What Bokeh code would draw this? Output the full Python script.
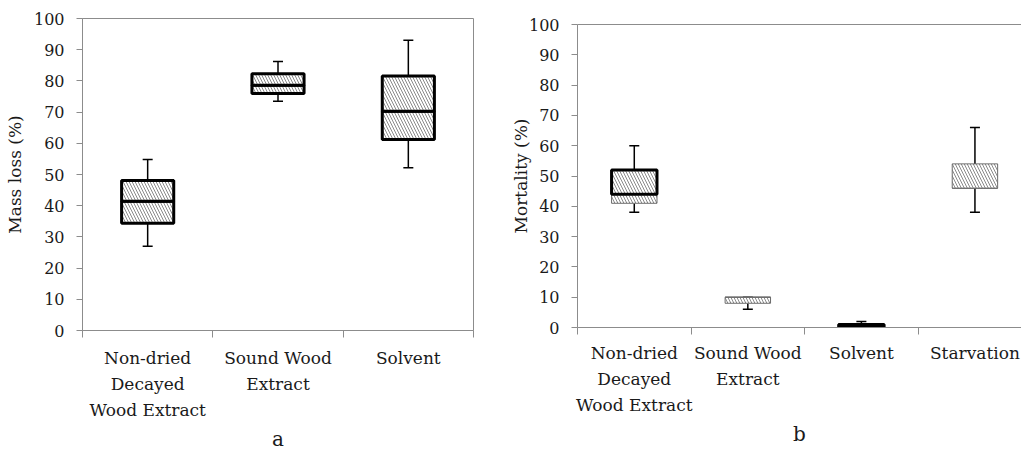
from bokeh.plotting import figure
from bokeh.models import FixedTicker, Range1d, LinearAxis
from bokeh.layouts import row, column
from bokeh.embed import file_html
from bokeh.resources import INLINE

# ---------------- data ----------------
a_categories = ["Non-dried\nDecayed\nWood Extract", "Sound Wood\nExtract", "Solvent"]
a_low = [27.0, 73.5, 52.2]
a_q1 = [34.4, 76.0, 61.2]
a_median = [41.4, 78.6, 70.3]
a_q3 = [48.1, 82.3, 81.6]
a_high = [54.8, 86.2, 93.0]

b_categories = ["Non-dried\nDecayed\nWood Extract", "Sound Wood\nExtract", "Solvent", "Starvation"]
b_low = [38, 6, 0, 38]
b_q1 = [41, 8, 0, 46]
b_median = [44, 10, 1, 46]
b_q3 = [52, 10, 1, 54]
b_high = [60, 10, 2, 66]

y_ticks = [0, 10, 20, 30, 40, 50, 60, 70, 80, 90, 100]

# ---------------- styles ----------------
FONT = "DejaVu Serif"
TXT = "#1a1a1a"
AXC = "#8c8c8c"
THICK = dict(line_color="black", line_width=3)
THIN = dict(line_color="#6a6a6a", line_width=1)

a_lower_style = [THICK, THICK, THICK]
a_upper_style = [THICK, THICK, THICK]
b_lower_style = [THIN, THIN, THICK, THIN]
b_upper_style = [THICK, THIN, THICK, THIN]


def make_panel(cats, low, q1, med, q3, high, lower_style, upper_style,
               ylabel, plabel, width, height, mb_left, mb_right, mb_top,
               mb_bottom, x_end, title_standoff, tick_standoff, plabel_standoff,
               outline):
    n = len(cats)
    xs = [i + 0.5 for i in range(n)]
    p = figure(width=width, height=height, output_backend="svg",
               toolbar_location=None, x_range=Range1d(0, x_end),
               y_range=Range1d(0, 100), min_border_left=mb_left,
               min_border_right=mb_right, min_border_top=mb_top,
               min_border_bottom=mb_bottom)
    p.xgrid.visible = False
    p.ygrid.visible = False
    p.background_fill_color = "white"
    p.border_fill_color = "white"
    if outline:
        p.outline_line_color = AXC
        p.outline_line_width = 1
    else:
        p.outline_line_color = None
        top = LinearAxis(ticker=FixedTicker(ticks=[]), axis_line_color=AXC,
                         major_tick_line_color=None, minor_tick_line_color=None,
                         major_label_text_font_size="0px")
        p.add_layout(top, "above")

    # whiskers
    p.segment(x0=xs, y0=q3, x1=xs, y1=high, line_color="black", line_width=1.5)
    p.segment(x0=xs, y0=low, x1=xs, y1=q1, line_color="black", line_width=1.5)
    p.scatter(x=xs, y=high, marker="dash", size=10, line_color="black", line_width=1.5)
    p.scatter(x=xs, y=low, marker="dash", size=10, line_color="black", line_width=1.5)

    # boxes
    for i in range(n):
        for b0, b1, st in ((q1[i], med[i], lower_style[i]), (med[i], q3[i], upper_style[i])):
            p.vbar(x=[xs[i]], bottom=[b0], top=[b1], width=0.4,
                   fill_color="white", hatch_pattern="\\", hatch_scale=6,
                   hatch_color="#8a8a8a", hatch_weight=1, **st)

    # x axis
    xa = p.below[0]
    xa.ticker = FixedTicker(ticks=xs, minor_ticks=list(range(n + 1)))
    xa.major_label_overrides = {x: c for x, c in zip(xs, cats)}
    xa.major_tick_out = 0
    xa.major_tick_in = 0
    xa.minor_tick_out = 7
    xa.minor_tick_in = 0
    xa.minor_tick_line_color = AXC
    xa.axis_line_color = AXC
    xa.major_label_text_font = FONT
    xa.major_label_text_font_size = "17px"
    xa.major_label_text_color = TXT
    xa.major_label_text_line_height = 1.3
    xa.major_label_standoff = tick_standoff
    xa.axis_label = plabel
    xa.axis_label_text_font = FONT
    xa.axis_label_text_font_size = "20px"
    xa.axis_label_text_font_style = "normal"
    xa.axis_label_text_color = TXT
    xa.axis_label_standoff = plabel_standoff

    # y axis
    ya = p.left[0]
    ya.ticker = FixedTicker(ticks=y_ticks, minor_ticks=[])
    ya.major_tick_out = 6
    ya.major_tick_in = 0
    ya.major_tick_line_color = AXC
    ya.axis_line_color = AXC
    ya.major_label_text_font = FONT
    ya.major_label_text_font_size = "16px"
    ya.major_label_text_color = TXT
    ya.major_label_standoff = 12
    ya.axis_label = ylabel
    ya.axis_label_text_font = FONT
    ya.axis_label_text_font_size = "17px"
    ya.axis_label_text_font_style = "normal"
    ya.axis_label_text_color = TXT
    ya.axis_label_standoff = title_standoff
    return p


pa = make_panel(a_categories, a_low, a_q1, a_median, a_q3, a_high,
                a_lower_style, a_upper_style, "Mass loss (%)", "a",
                width=490, height=453, mb_left=82, mb_right=17, mb_top=18,
                mb_bottom=123, x_end=3, title_standoff=6, tick_standoff=10,
                plabel_standoff=4, outline=True)
pb = make_panel(b_categories, b_low, b_q1, b_median, b_q3, b_high,
                b_lower_style, b_upper_style, "Mortality (%)", "b",
                width=531, height=453, mb_left=87, mb_right=0, mb_top=24,
                mb_bottom=126, x_end=3.91, title_standoff=-5, tick_standoff=8,
                plabel_standoff=4, outline=False)

layout = row(column(pa), column(pb))
open("out.html", "w").write(file_html(layout, INLINE))
